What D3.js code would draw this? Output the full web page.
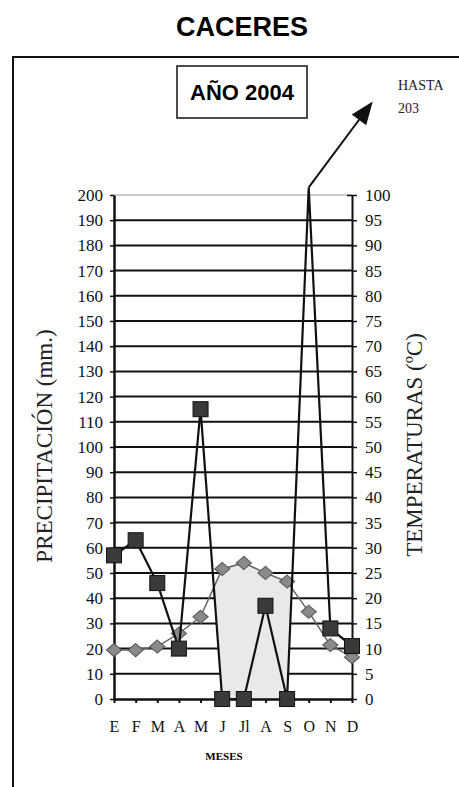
<!DOCTYPE html>
<html>
<head>
<meta charset="utf-8">
<script src="https://cdn.jsdelivr.net/npm/d3@7"></script>
<style>
  body { margin: 0; background: #fff; }
  svg { display: block; }
</style>
</head>
<body>
<script>
// Datos
var meses = ['E', 'F', 'M', 'A', 'M ', 'J', 'Jl', 'A ', 'S', 'O', 'N', 'D']
var precipitacion = [57, 63, 46, 20, 115, 0, 0, 37, 0, 203, 28, 21]
var temperatura = [9.7, 9.7, 10.4, 13, 16.3, 25.8, 27, 25, 23.3, 17.3, 10.7, 8.3]
var ticksP = d3.range(0, 201, 10)
var ticksT = d3.range(0, 101, 5)

var width = 459, height = 787
var pLeft = 114, pRight = 352, pTop = 195, pBottom = 699

var svg = d3.select('body')
            .append('svg')
            .attr('width', width)
            .attr('height', height)

var serif = "'Liberation Serif', 'Times New Roman', serif"
var sans = "'Liberation Sans', Arial, sans-serif"

// marco exterior
svg.append('rect')
   .attr('x', 13).attr('y', 57)
   .attr('width', 480).attr('height', 760)
   .attr('fill', 'none').attr('stroke', '#111').attr('stroke-width', 2)

// titulo
svg.append('text')
   .attr('x', 242).attr('y', 36)
   .attr('text-anchor', 'middle')
   .style('font-family', sans).style('font-weight', 'bold').style('font-size', '27px')
   .text('CACERES')

svg.append('rect')
   .attr('x', 177).attr('y', 66).attr('width', 130).attr('height', 52)
   .attr('fill', 'none').attr('stroke', '#111').attr('stroke-width', 1.5)

svg.append('text')
   .attr('x', 242).attr('y', 100)
   .attr('text-anchor', 'middle')
   .style('font-family', sans).style('font-weight', 'bold').style('font-size', '22px')
   .text('AÑO 2004')

// escalas
var x = d3.scalePoint().domain(meses).range([pLeft, pRight])
var yP = d3.scaleLinear().domain([0, 200]).range([pBottom, pTop])
var yT = d3.scaleLinear().domain([0, 100]).range([pBottom, pTop])

// lineas de rejilla
svg.append('g')
   .selectAll('line')
   .data(ticksP.filter(d => d > 0))
   .enter().append('line')
   .attr('x1', pLeft).attr('x2', pRight)
   .attr('y1', d => yP(d)).attr('y2', d => yP(d))
   .attr('stroke', d => d == 200 ? '#999' : '#111')
   .attr('stroke-width', d => d == 200 ? 1 : 2)

// periodo seco sombreado
var cross1 = 4 + (precipitacion[4] - 2 * temperatura[4]) /
             ((precipitacion[4] - precipitacion[5]) + 2 * (temperatura[5] - temperatura[4]))
var cross2 = 8 + (2 * temperatura[8] - precipitacion[8]) /
             ((precipitacion[9] - precipitacion[8]) + 2 * (temperatura[8] - temperatura[9]))
function xi(i) { return pLeft + i * x.step() }
function lerp(a, i) { var k = Math.floor(i); return a[k] + (a[k + 1] - a[k]) * (i - k) }
var poly = [[xi(cross1), yT(lerp(temperatura, cross1))]]
for (var i = 5; i <= 8; i++) poly.push([xi(i), yT(temperatura[i])])
poly.push([xi(cross2), yT(lerp(temperatura, cross2))])
poly.push([xi(8), yP(precipitacion[8])])
poly.push([xi(5), yP(precipitacion[5])])
svg.append('path')
   .attr('d', 'M' + poly.join('L') + 'Z')
   .attr('fill', '#e9e9e9')

// ejes
var axisL = d3.axisLeft(yP).tickValues(ticksP).tickSize(4).tickSizeOuter(0)
var gL = svg.append('g').attr('transform', 'translate(' + pLeft + ',0)').call(axisL)
gL.select('.domain').attr('stroke', '#111').attr('stroke-width', 2.5)
gL.selectAll('.tick line').attr('stroke', '#111').attr('stroke-width', 1.5)
gL.selectAll('text').attr('x', -11)
  .style('font-family', serif).style('font-size', '17px').attr('fill', '#111')

var axisR = d3.axisRight(yT).tickValues(ticksT).tickSize(5).tickSizeOuter(0)
var gR = svg.append('g').attr('transform', 'translate(' + pRight + ',0)').call(axisR)
gR.select('.domain').attr('stroke', '#111').attr('stroke-width', 2)
gR.selectAll('.tick line').attr('stroke', '#111').attr('stroke-width', 1.5)
gR.selectAll('.tick').filter(d => d == 100).select('line').attr('x1', -5)
gR.selectAll('text').attr('x', 13)
  .style('font-family', serif).style('font-size', '17px').attr('fill', '#111')

var axisB = d3.axisBottom(x).tickSize(4).tickSizeOuter(0)
var gB = svg.append('g').attr('transform', 'translate(0,' + pBottom + ')').call(axisB)
gB.select('.domain').attr('stroke', '#111').attr('stroke-width', 2.5)
gB.selectAll('.tick line').attr('stroke', '#111').attr('stroke-width', 2)
gB.selectAll('text').attr('y', 22)
  .style('font-family', serif).style('font-size', '16px').attr('fill', '#111')

// titulos de ejes
svg.append('text')
   .attr('transform', 'translate(44,446) rotate(-90)')
   .attr('text-anchor', 'middle').attr('dominant-baseline', 'central')
   .style('font-family', serif).style('font-size', '23px').attr('fill', '#222')
   .text('PRECIPITACIÓN (mm.)')

svg.append('text')
   .attr('transform', 'translate(414,445) rotate(-90)')
   .attr('text-anchor', 'middle').attr('dominant-baseline', 'central')
   .style('font-family', serif).style('font-size', '23px').attr('fill', '#222')
   .text('TEMPERATURAS (ºC)')

svg.append('text')
   .attr('x', 224).attr('y', 760)
   .attr('text-anchor', 'middle')
   .style('font-family', serif).style('font-weight', 'bold').style('font-size', '11px')
   .text('MESES')

// temperatura
var lineT = d3.line().x((d, i) => x(meses[i])).y(d => yT(d))
svg.append('path')
   .datum(temperatura)
   .attr('d', lineT)
   .attr('fill', 'none').attr('stroke', '#666').attr('stroke-width', 1.5)

svg.append('g')
   .selectAll('path')
   .data(temperatura)
   .enter().append('path')
   .attr('d', d3.symbol().type(d3.symbolDiamond2).size(110))
   .attr('transform', (d, i) => 'translate(' + x(meses[i]) + ',' + yT(d) + ') scale(1.15,1)')
   .attr('fill', '#8a8a8a').attr('stroke', '#5a5a5a').attr('stroke-width', 1)

// precipitacion
var lineP = d3.line().x((d, i) => x(meses[i])).y(d => yP(d))
svg.append('path')
   .datum(precipitacion)
   .attr('d', lineP)
   .attr('fill', 'none').attr('stroke', '#111').attr('stroke-width', 2.2)

svg.append('g')
   .selectAll('rect')
   .data(precipitacion.map((d, i) => [i, d]).filter(d => d[1] <= 200))
   .enter().append('rect')
   .attr('x', d => x(meses[d[0]]) - 7.5)
   .attr('y', d => yP(d[1]) - 7.5)
   .attr('width', 15).attr('height', 15)
   .attr('fill', '#3a3a3a').attr('stroke', '#111').attr('stroke-width', 1)

// flecha "HASTA 203"
var imax = precipitacion.indexOf(d3.max(precipitacion))
var x0 = x(meses[imax]), y0 = yP(precipitacion[imax])
var x1 = x0 + 64, y1 = y0 - 86
var ang = Math.atan2(y1 - y0, x1 - x0)
svg.append('line')
   .attr('x1', x0).attr('y1', y0)
   .attr('x2', x1 - 16 * Math.cos(ang)).attr('y2', y1 - 16 * Math.sin(ang))
   .attr('stroke', '#111').attr('stroke-width', 2)
svg.append('path')
   .attr('d', 'M0,0L-23,-9L-23,9Z')
   .attr('transform', 'translate(' + x1 + ',' + y1 + ') rotate(' + ang * 180 / Math.PI + ')')
   .attr('fill', '#111')

svg.append('text')
   .attr('x', 398).attr('y', 90)
   .style('font-family', serif).style('font-size', '14px').attr('fill', '#222')
   .text('HASTA')
svg.append('text')
   .attr('x', 398).attr('y', 113)
   .style('font-family', serif).style('font-size', '14px').attr('fill', '#222')
   .text(precipitacion[imax])
</script>
</body>
</html>
